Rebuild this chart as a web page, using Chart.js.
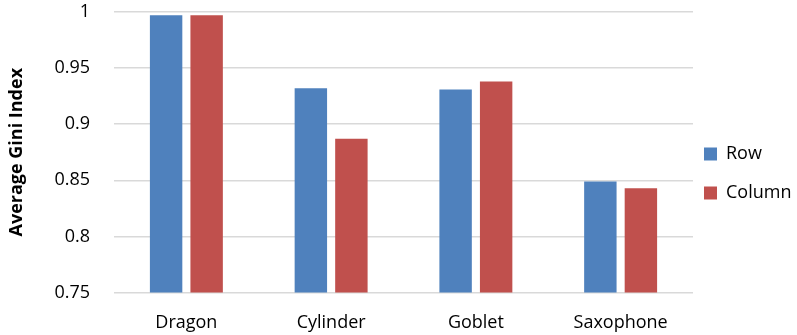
<!DOCTYPE html>
<html>
<head>
<meta charset="utf-8">
<script src="https://cdn.jsdelivr.net/npm/chart.js@4"></script>
<style>
  html, body { margin: 0; padding: 0; background: #ffffff; }
  #wrap { width: 797px; height: 335px; }
</style>
</head>
<body>
<div id="wrap"><canvas id="c" width="797" height="335"></canvas></div>
<script>
// Average Gini index per model, split by row and column
const categories = ['Dragon', 'Cylinder', 'Goblet', 'Saxophone'];
const rowValues = [0.997, 0.932, 0.931, 0.849];
const columnValues = [0.997, 0.887, 0.938, 0.843];
const yTicks = [0.75, 0.8, 0.85, 0.9, 0.95, 1];

const FONT = '"Open Sans", "Noto Sans", sans-serif';

// legend column: fixed width at the right edge, items start a little inside the plot's gap
const legendWidthPlugin = {
  id: 'legendWidth',
  afterInit(chart) {
    const lg = chart.legend;
    const fit = lg.fit;
    lg.fit = function () {
      fit.call(this);
      this.width = 104;
    };
  },
  afterLayout(chart) {
    const lg = chart.legend;
    lg.left -= 10;
  }
};

new Chart(document.getElementById('c'), {
  type: 'bar',
  data: {
    labels: categories,
    datasets: [
      { label: 'Row', data: rowValues, backgroundColor: '#4F81BD' },
      { label: 'Column', data: columnValues, backgroundColor: '#C0504D' }
    ]
  },
  plugins: [legendWidthPlugin],
  options: {
    responsive: false,
    animation: false,
    devicePixelRatio: 1,
    layout: { padding: { top: 12, left: 0, right: 0, bottom: 0 } },
    datasets: { bar: { categoryPercentage: 0.56, barPercentage: 0.8 } },
    plugins: {
      tooltip: { enabled: false },
      legend: {
        position: 'right',
        labels: {
          boxWidth: 13,
          boxHeight: 13,
          padding: 21,
          color: '#000000',
          font: { family: FONT, size: 18 }
        }
      }
    },
    scales: {
      x: {
        grid: { display: false },
        border: { display: false },
        ticks: { color: '#000000', font: { family: FONT, size: 18 }, padding: 12 },
        afterFit(scale) { scale.height = 42.5; }
      },
      y: {
        min: 0.75,
        max: 1,
        afterBuildTicks(scale) { scale.ticks = yTicks.map(v => ({ value: v })); },
        grid: { color: '#d9d9d9', lineWidth: 1.5, drawTicks: false },
        border: { display: false },
        ticks: {
          color: '#000000',
          font: { family: FONT, size: 18 },
          padding: 24,
          callback: v => String(+v.toFixed(2))
        },
        title: {
          display: true,
          text: 'Average Gini Index',
          color: '#000000',
          font: { family: FONT, size: 18, weight: 'bold' },
          padding: { top: 6, bottom: 0 }
        },
        afterFit(scale) {
          scale.width = 114;
          scale.paddingTop = 0;
          scale.paddingBottom = 0;
        }
      }
    }
  }
});
</script>
</body>
</html>
